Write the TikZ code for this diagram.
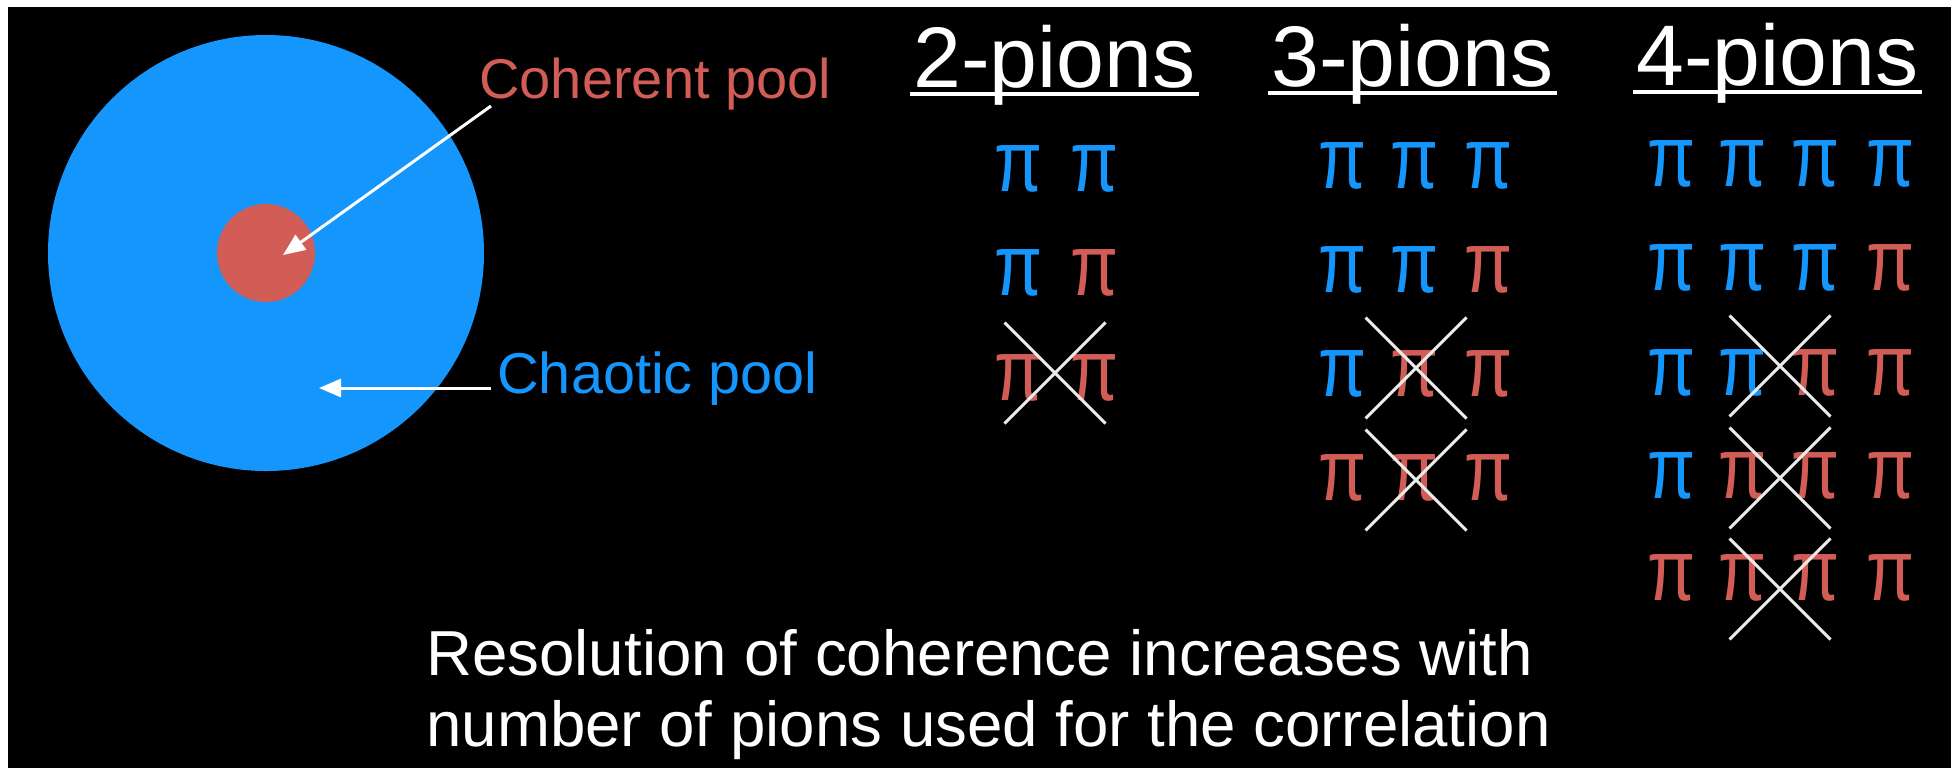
\documentclass[tikz,border=0pt]{standalone}
\usepackage{graphicx}
\usepackage{fontspec}
\setmainfont{Liberation Sans}
\usetikzlibrary{arrows.meta,shapes.misc}
\definecolor{cblue}{RGB}{21,150,252}
\definecolor{cred}{RGB}{210,92,86}
\definecolor{xcol}{RGB}{235,235,235}
\newcommand{\pglyph}{\scalebox{0.8}[1]{π}}
\begin{document}
\begin{tikzpicture}[x=0.5pt,y=-0.5pt,
  lbl/.style={inner sep=0pt, anchor=base west},
  pion/.style={inner sep=0pt, anchor=base, font=\fontsize{43.5}{44}\selectfont},
  bpi/.style={pion, text=cblue},
  rpi/.style={pion, text=cred},
  xmark/.style={cross out, draw=xcol, line width=1.5pt, minimum size=49pt, inner sep=0pt},
  hdr/.style={lbl, text=white, font=\fontsize{43}{44}\selectfont},
  uline/.style={draw=white, line width=1.8pt},
  ptr/.style={draw=white, line width=1.5pt, -{Triangle[length=11pt,width=9pt]}}]
\useasboundingbox (0,0) rectangle (1954,768);
\fill[white] (0,0) rectangle (1954,768);
\fill[black] (8,7) rectangle (1951,768);

% pools
\node[circle, fill=cblue, minimum size=218pt, inner sep=0pt] (chaotic) at (266,253) {};
\node[circle, fill=cred, minimum size=49pt, inner sep=0pt] (coherent) at (266,253) {};
\node[lbl, text=cred, font=\fontsize{28}{30}\selectfont] (cohlbl) at (479,98) {Coherent pool};
\node[lbl, text=cblue, font=\fontsize{28.8}{30}\selectfont] (chalbl) at (497,393) {Chaotic pool};
\coordinate (cohstart) at (491,106);
\coordinate (cohtip) at (283,255);
\coordinate (chastart) at (491,388);
\coordinate (chatip) at (319,388);
\draw[ptr] (cohstart) -- (cohtip);
\draw[ptr] (chastart) -- (chatip);

% headers
\node[hdr] (h2) at (913,87) {2-pions};
\node[hdr] (h3) at (1271,86) {3-pions};
\node[hdr] (h4) at (1636,85) {4-pions};
\draw[uline] ([xshift=-1.5pt,yshift=-3.5pt]h2.base west) -- ([xshift=1.5pt,yshift=-3.5pt]h2.base east);
\draw[uline] ([xshift=-1.5pt,yshift=-3.5pt]h3.base west) -- ([xshift=1.5pt,yshift=-3.5pt]h3.base east);
\draw[uline] ([xshift=-1.5pt,yshift=-3.5pt]h4.base west) -- ([xshift=1.5pt,yshift=-3.5pt]h4.base east);

% 2-pions
\node[bpi] (a11) at (1018,191) {\pglyph}; \node[bpi] (a12) at (1094,191) {\pglyph};
\node[bpi] (a21) at (1018,295) {\pglyph}; \node[rpi] (a22) at (1094,295) {\pglyph};
\node[rpi] (a31) at (1018,400) {\pglyph}; \node[rpi] (a32) at (1094,400) {\pglyph};
\node[xmark] (ax3) at (1055,373) {};

% 3-pions
\node[bpi] (b11) at (1342,188) {\pglyph}; \node[bpi] (b12) at (1414,188) {\pglyph}; \node[bpi] (b13) at (1488,188) {\pglyph};
\node[bpi] (b21) at (1342,292) {\pglyph}; \node[bpi] (b22) at (1414,292) {\pglyph}; \node[rpi] (b23) at (1488,292) {\pglyph};
\node[bpi] (b31) at (1342,396) {\pglyph}; \node[rpi] (b32) at (1414,396) {\pglyph}; \node[rpi] (b33) at (1488,396) {\pglyph};
\node[rpi] (b41) at (1342,500) {\pglyph}; \node[rpi] (b42) at (1414,500) {\pglyph}; \node[rpi] (b43) at (1488,500) {\pglyph};
\node[xmark] (bx3) at (1416,368) {};
\node[xmark] (bx4) at (1416,480) {};

% 4-pions
\node[bpi] (c11) at (1671,186) {\pglyph}; \node[bpi] (c12) at (1742,186) {\pglyph}; \node[bpi] (c13) at (1815,186) {\pglyph}; \node[bpi] (c14) at (1890,186) {\pglyph};
\node[bpi] (c21) at (1671,290) {\pglyph}; \node[bpi] (c22) at (1742,290) {\pglyph}; \node[bpi] (c23) at (1815,290) {\pglyph}; \node[rpi] (c24) at (1890,290) {\pglyph};
\node[bpi] (c31) at (1671,395) {\pglyph}; \node[bpi] (c32) at (1742,395) {\pglyph}; \node[rpi] (c33) at (1815,395) {\pglyph}; \node[rpi] (c34) at (1890,395) {\pglyph};
\node[bpi] (c41) at (1671,498) {\pglyph}; \node[rpi] (c42) at (1742,498) {\pglyph}; \node[rpi] (c43) at (1815,498) {\pglyph}; \node[rpi] (c44) at (1890,498) {\pglyph};
\node[rpi] (c51) at (1671,600) {\pglyph}; \node[rpi] (c52) at (1742,600) {\pglyph}; \node[rpi] (c53) at (1815,600) {\pglyph}; \node[rpi] (c54) at (1890,600) {\pglyph};
\node[xmark] (cx3) at (1780,366) {};
\node[xmark] (cx4) at (1780,478) {};
\node[xmark] (cx5) at (1780,589) {};

% caption
\node[lbl, text=white, font=\fontsize{31.8}{35}\selectfont] (cap1) at (426,675) {Resolution of coherence increases with};
\node[lbl, text=white, font=\fontsize{31.8}{35}\selectfont] (cap2) at (426,746) {number of pions used for the correlation};
\end{tikzpicture}
\end{document}
